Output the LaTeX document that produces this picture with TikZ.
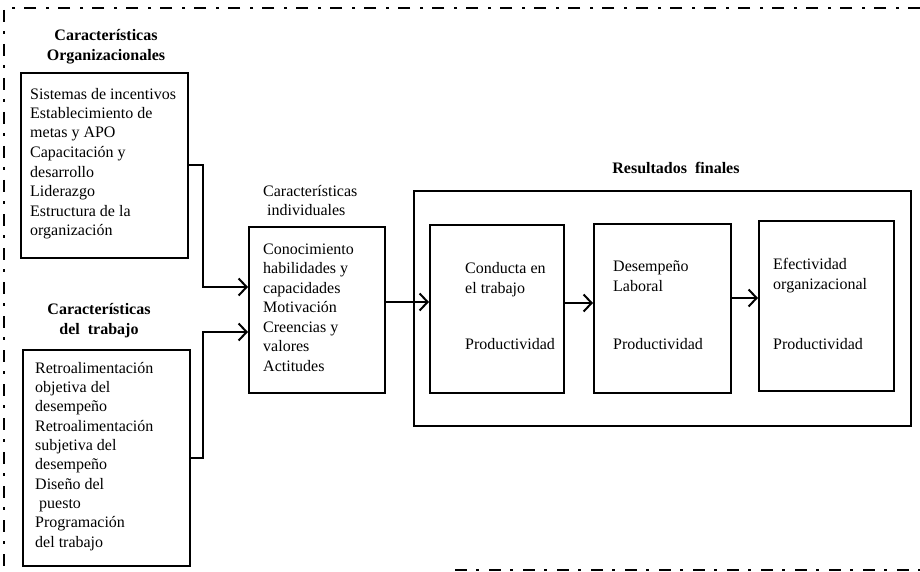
\documentclass[tikz,border=0pt]{standalone}
\usepackage{fontspec}
\setmainfont{Liberation Serif}
\usetikzlibrary{arrows.meta}
\begin{document}
\begin{tikzpicture}[x=1pt,y=-1pt,
  boxst/.style={draw,line width=1.7pt,inner sep=0pt,anchor=north west},
  txt/.style={inner sep=0pt,anchor=base west,align=left,font=\fontsize{16}{19.5}\selectfont},
  ttl/.style={inner sep=0pt,anchor=base,align=center,font=\fontsize{16}{20}\selectfont\bfseries},
  arr/.style={line width=2pt,-{Straight Barb[length=8pt,width=17pt,line width=2pt]}},
  border/.style={line width=2pt,dash pattern=on 12pt off 9pt on 3pt off 10pt}]
\useasboundingbox (0,0) rectangle (920,572);
% border
\draw[border] (920,8) -- (4,8) -- (4,572);
\draw[border] (455,570) -- (920,570);
% boxes
\node[boxst,minimum width=167pt,minimum height=185pt] (orgbox) at (20,72) {};
\node[boxst,minimum width=167pt,minimum height=216pt] (trabbox) at (22,349) {};
\node[boxst,minimum width=136pt,minimum height=166pt] (indbox) at (248,226) {};
\node[boxst,minimum width=497pt,minimum height=235pt] (resbox) at (413,190) {};
\node[boxst,minimum width=134pt,minimum height=168pt] (cbox) at (429,224) {};
\node[boxst,minimum width=137pt,minimum height=169pt] (dbox) at (593,223) {};
\node[boxst,minimum width=135pt,minimum height=170pt] (ebox) at (758,220) {};
% titles (anchor = baseline of last line)
\node[ttl] (orgttl) at (106,61) {Características\\Organizacionales};
\node[ttl] (trabttl) at (99,334) {Características\\del\ \ trabajo};
\node[txt,font=\fontsize{16}{19}\selectfont] (indttl) at (263,215) {Características\\\ individuales};
\node[ttl] (resttl) at (676,174) {Resultados\ \ finales};
% texts
\node[txt] (orgtxt) at (30,235.5) {Sistemas de incentivos\\Establecimiento de\\metas y APO\\Capacitación y\\desarrollo\\Liderazgo\\Estructura de la\\organización};
\node[txt,font=\fontsize{16}{19.3}\selectfont] (trabtxt) at (35,547) {Retroalimentación\\objetiva del\\desempeño\\Retroalimentación\\subjetiva del\\desempeño\\Diseño del\\\ puesto\\Programación\\del trabajo};
\node[txt] (indtxt) at (263,371) {Conocimiento\\habilidades y\\capacidades\\Motivación\\Creencias y\\valores\\Actitudes};
\node[txt,font=\fontsize{16}{20}\selectfont] (ctxt) at (465,293) {Conducta en\\el trabajo};
\node[txt] (cprod) at (465,349) {Productividad};
\node[txt,font=\fontsize{16}{20}\selectfont] (dtxt) at (613,291) {Desempeño\\Laboral};
\node[txt] (dprod) at (613,349) {Productividad};
\node[txt,font=\fontsize{16}{20}\selectfont] (etxt) at (773,289) {Efectividad\\organizacional};
\node[txt] (eprod) at (773,349) {Productividad};
% connectors
\coordinate (j1) at (203,287);
\coordinate (j2) at (203,332);
\coordinate (a1) at (0,302);
\coordinate (a2) at (0,303);
\coordinate (a3) at (0,298);
\draw[arr] (orgbox.east) -| (j1) -- (j1 -| indbox.west);
\draw[arr] (trabbox.east) -| (j2) -- (j2 -| indbox.west);
\draw[arr] (indbox.east |- a1) -- (cbox.west |- a1);
\draw[arr] (cbox.east |- a2) -- (dbox.west |- a2);
\draw[arr] (dbox.east |- a3) -- (ebox.west |- a3);
\end{tikzpicture}
\end{document}
